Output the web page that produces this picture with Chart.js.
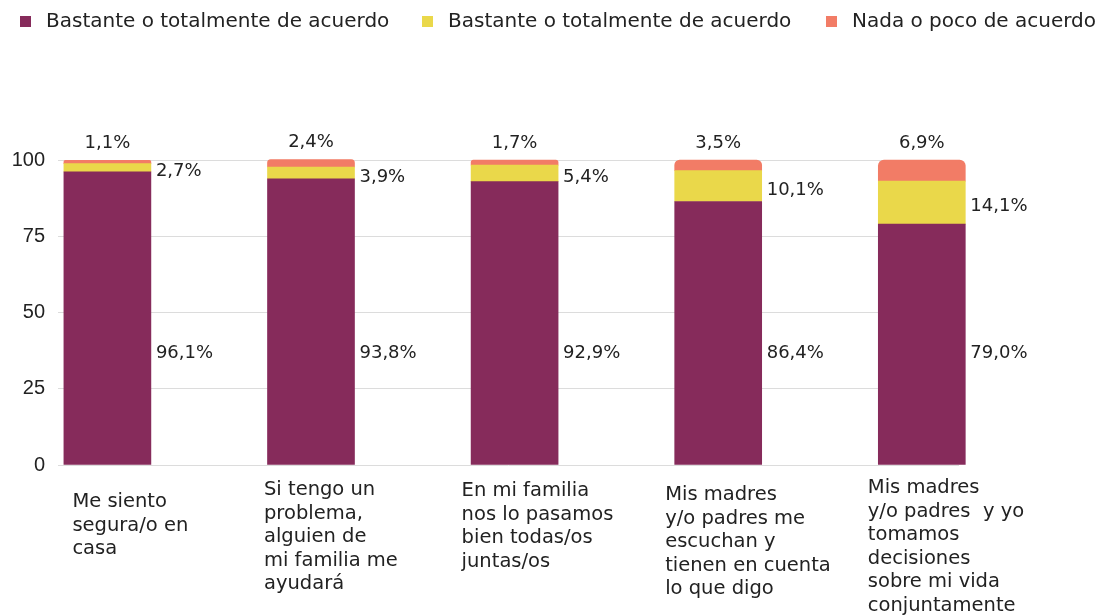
<!DOCTYPE html>
<html><head><meta charset="utf-8">
<script src="https://cdn.jsdelivr.net/npm/chart.js@4.4.0/dist/chart.umd.min.js"></script>
<style>html,body{margin:0;padding:0;background:#fff;overflow:hidden}#wrap{width:1099px;height:616px;position:relative}</style>
</head><body><div id="wrap"><canvas id="c" width="1099" height="616"></canvas></div>
<script>
const categories = [
  ["Me siento","segura/o en","casa"],
  ["Si tengo un","problema,","alguien de","mi familia me","ayudará"],
  ["En mi familia","nos lo pasamos","bien todas/os","juntas/os"],
  ["Mis madres","y/o padres me","escuchan y","tienen en cuenta","lo que digo"],
  ["Mis madres","y/o padres  y yo","tomamos","decisiones","sobre mi vida","conjuntamente"]
];
const seriesNames = ["Bastante o totalmente de acuerdo","Bastante o totalmente de acuerdo","Nada o poco de acuerdo"];
const acuerdo = [96.1, 93.8, 92.9, 86.4, 79.0];
const algo = [2.7, 3.9, 5.4, 10.1, 14.1];
const nada = [1.1, 2.4, 1.7, 3.5, 6.9];
const yTicks = [0, 25, 50, 75, 100];

const COLORS = ['#862B5B', '#EAD84A', '#F27C66'];
const TXT = '#222222';
const FONT = '"DejaVu Sans", sans-serif';
const fmt = v => v.toFixed(1).replace('.', ',') + '%';
const toPts = arr => arr.map((v, i) => ({x: i, y: v}));

// layout (styles only)
const legendPos = [20, 422, 826];
const labelDx = [-35, -47, -53, -53, -54];
const labelTop = [502, 490, 491, 495, 488];

const overlay = {
  id: 'overlay',
  afterDatasetsDraw(chart) {
    const ctx = chart.ctx;
    const y = chart.scales.y;
    ctx.save();
    ctx.fillStyle = TXT;
    ctx.font = '18px ' + FONT;
    ctx.textBaseline = 'middle';
    const m0 = chart.getDatasetMeta(0), m1 = chart.getDatasetMeta(1), m2 = chart.getDatasetMeta(2);
    m0.data.forEach((el, i) => {
      ctx.textAlign = 'left';
      ctx.fillText(fmt(acuerdo[i]), el.x + el.width / 2 + 5, y.getPixelForValue(36.7));
    });
    m1.data.forEach((el, i) => {
      ctx.textAlign = 'left';
      ctx.fillText(fmt(algo[i]), el.x + el.width / 2 + 5, (el.y + el.base) / 2 + 4);
    });
    m2.data.forEach((el, i) => {
      ctx.textAlign = 'center';
      ctx.fillText(fmt(nada[i]), el.x, el.y - 17);
    });
    ctx.restore();
  },
  afterDraw(chart) {
    const ctx = chart.ctx;
    const x = chart.scales.x;
    ctx.save();
    ctx.fillStyle = TXT;
    ctx.font = '19.5px ' + FONT;
    ctx.textAlign = 'left';
    ctx.textBaseline = 'middle';
    categories.forEach((lines, i) => {
      const px = x.getPixelForValue(i) + labelDx[i];
      lines.forEach((t, j) => ctx.fillText(t, px, labelTop[i] + j * 23.5));
    });
    // legend
    ctx.font = '20px ' + FONT;
    chart.data.datasets.forEach((ds, i) => {
      ctx.fillStyle = ds.backgroundColor;
      ctx.fillRect(legendPos[i], 16, 11, 11);
      ctx.fillStyle = TXT;
      ctx.fillText(ds.label, legendPos[i] + 26, 22);
    });
    ctx.restore();
  }
};

new Chart(document.getElementById('c'), {
  type: 'bar',
  data: {
    datasets: [
      {label: seriesNames[0], data: toPts(acuerdo), backgroundColor: COLORS[0]},
      {label: seriesNames[1], data: toPts(algo), backgroundColor: COLORS[1]},
      {label: seriesNames[2], data: toPts(nada), backgroundColor: COLORS[2],
       borderRadius: {topLeft: 6, topRight: 6, bottomLeft: 0, bottomRight: 0}, borderSkipped: false}
    ]
  },
  options: {
    responsive: false,
    animation: false,
    devicePixelRatio: 1,
    layout: {padding: {left: 0, top: 160, right: 140, bottom: 151}},
    datasets: {bar: {barThickness: 87, clip: false}},
    plugins: {legend: {display: false}, tooltip: {enabled: false}},
    scales: {
      x: {
        type: 'linear', stacked: true, min: -0.2426, max: 4.1827, offset: false,
        display: false, grid: {display: false}
      },
      y: {
        stacked: true, min: 0, max: 100,
        afterBuildTicks: s => { s.ticks = yTicks.map(v => ({value: v})); },
        afterFit: s => { s.width = 58; },
        border: {display: false},
        grid: {color: '#dcdcdc', lineWidth: 1, drawTicks: false},
        ticks: {padding: 13, color: TXT, font: {family: '"Liberation Sans", Arial, sans-serif', size: 20}}
      }
    }
  },
  plugins: [overlay]
});
</script>
</body></html>
